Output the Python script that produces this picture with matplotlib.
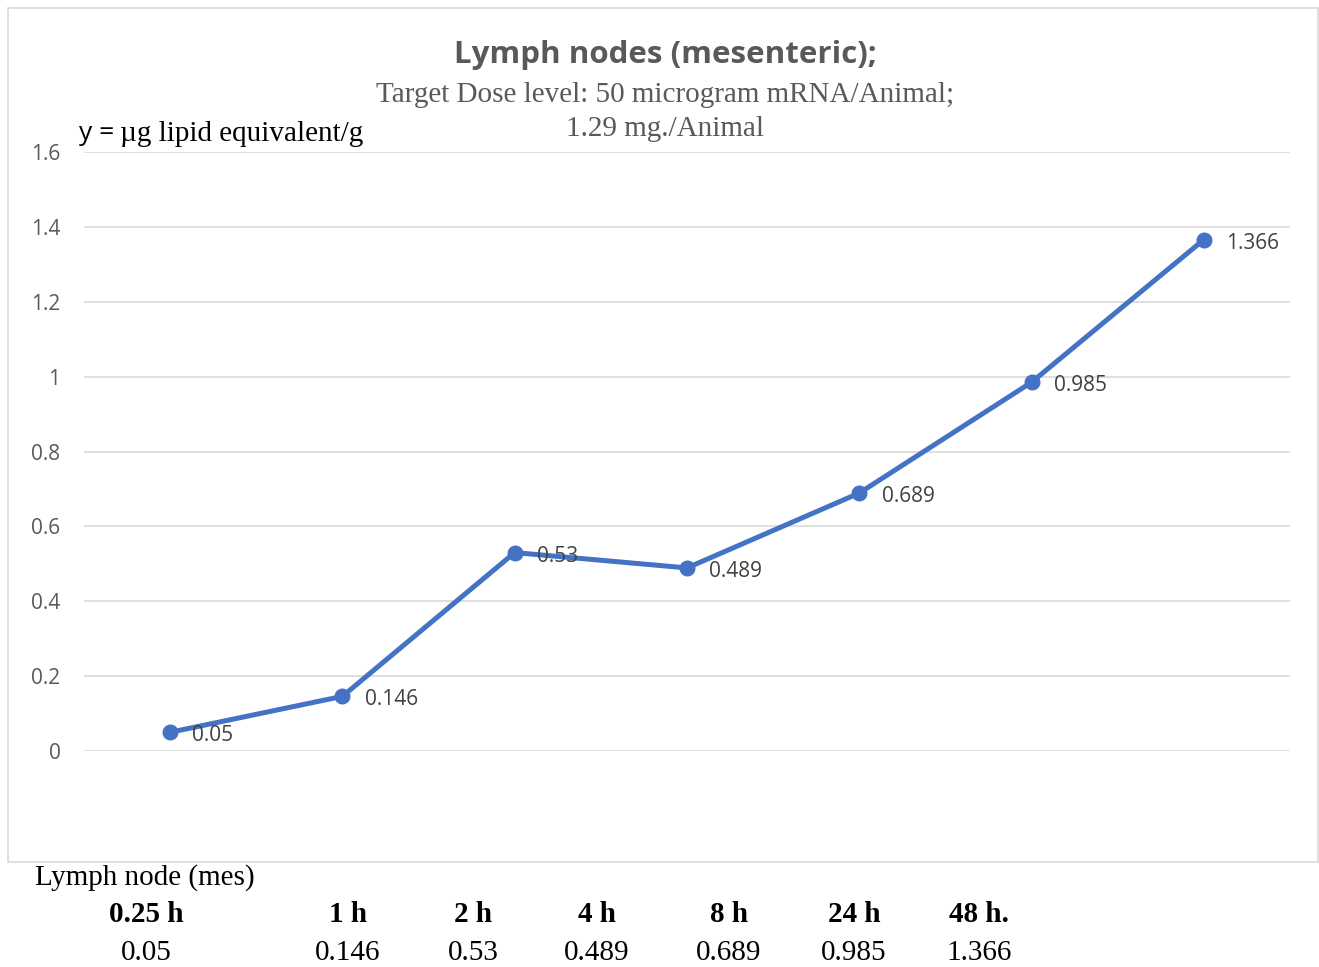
import matplotlib
matplotlib.use("Agg")
import matplotlib.pyplot as plt
from matplotlib.patches import Rectangle

# data
times = ["0.25 h", "1 h", "2 h", "4 h", "8 h", "24 h", "48 h."]
values = [0.05, 0.146, 0.53, 0.489, 0.689, 0.985, 1.366]
yticks = [0, 0.2, 0.4, 0.6, 0.8, 1, 1.2, 1.4, 1.6]
ytick_labels = ["0", "0.2", "0.4", "0.6", "0.8", "1", "1.2", "1.4", "1.6"]

# layout of the table under the chart (figure pixels)
table_x = [146, 348, 473, 597, 729, 854, 979]

W, H = 1319, 967
fig = plt.figure(figsize=(W / 100, H / 100), dpi=100)
fig.patch.set_facecolor("white")

def fx(px):
    return px / W

def fy(py):
    return 1 - py / H

# chart frame
fig.patches.append(Rectangle((fx(8), fy(862)), fx(1318) - fx(8), fy(8) - fy(862),
                             transform=fig.transFigure, fill=False,
                             edgecolor="#d9d9d9", linewidth=1.2))

ax = fig.add_axes([fx(84), fy(751), fx(1290) - fx(84), fy(152) - fy(751)])
x = list(range(len(values)))
ax.plot(x, values, color="#4472C4", linewidth=3.6, marker="o", markersize=10.5,
        solid_capstyle="round", zorder=3)
for xi, v in zip(x, values):
    ax.annotate(f"{v:g}", (xi, v), xytext=(16, -2.5), textcoords="offset points",
                va="center", ha="left", fontsize=15, color="#404040",
                family="Open Sans", zorder=4)

ax.set_xlim(-0.5, len(values) - 0.5)
ax.set_ylim(0, 1.6)
ax.set_yticks(yticks)
ax.set_yticklabels(ytick_labels, family="Open Sans", fontsize=15, color="#595959")
ax.set_xticks([])
ax.tick_params(axis="y", length=0, pad=17)
ax.grid(axis="y", color="#d9d9d9", linewidth=1.2)
ax.set_axisbelow(True)
for s in ax.spines.values():
    s.set_visible(False)

# titles
fig.text(fx(665), fy(55), "Lymph nodes (mesenteric);", ha="center", va="center",
         fontsize=22.5, fontweight="bold", color="#595959", family="Open Sans")
fig.text(fx(665), fy(95), "Target Dose level: 50 microgram mRNA/Animal;", ha="center",
         va="center", fontsize=21, color="#595959", family="Liberation Serif")
fig.text(fx(665), fy(129), "1.29 mg./Animal", ha="center",
         va="center", fontsize=21, color="#595959", family="Liberation Serif")
fig.text(fx(79), fy(133), "y = ", ha="left", va="center", fontsize=19,
         color="black", family="Open Sans")
fig.text(fx(120), fy(134), "\u00b5g lipid equivalent/g", ha="left", va="center",
         fontsize=21, color="black", family="Liberation Serif")

# table below
fig.text(fx(35), fy(878), "Lymph node (mes)", ha="left", va="center", fontsize=21,
         color="black", family="Liberation Serif")
for px, lab, v in zip(table_x, times, values):
    fig.text(fx(px), fy(914), lab, ha="center", va="center", fontsize=21,
             fontweight="bold", color="black", family="Liberation Serif")
    fig.text(fx(px), fy(953), f"{v:g}", ha="center", va="center", fontsize=21,
             color="black", family="Liberation Serif")

fig.savefig("out.png", dpi=100)
